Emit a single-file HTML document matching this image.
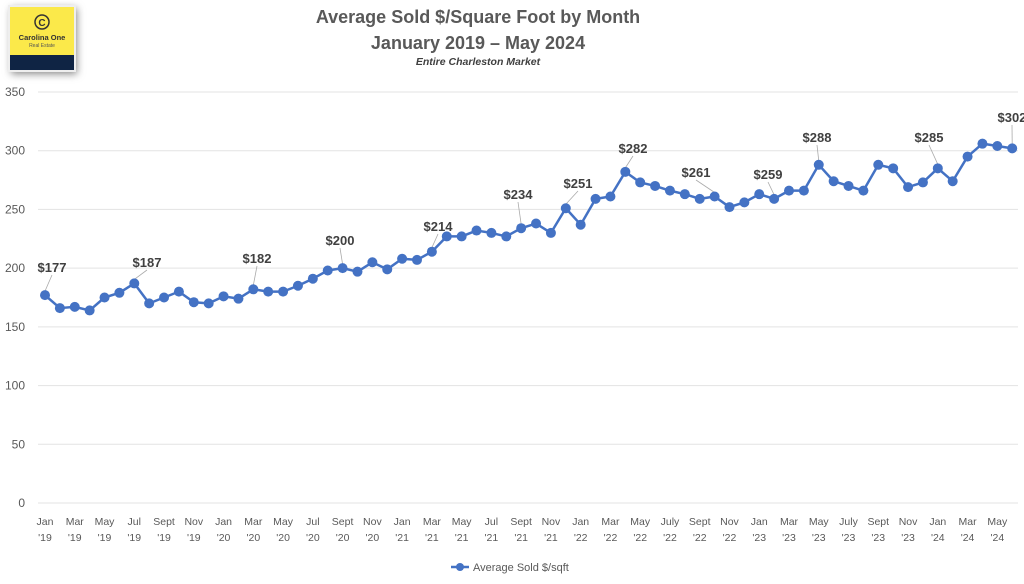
<!DOCTYPE html><html><head><meta charset="utf-8"><style>body{margin:0;background:#fff;width:1024px;height:579px;overflow:hidden;font-family:"Liberation Sans",sans-serif}</style></head><body>
<svg width="1024" height="579" xmlns="http://www.w3.org/2000/svg" font-family="Liberation Sans, sans-serif">
<defs><filter id="sh" x="-30%" y="-30%" width="160%" height="160%"><feGaussianBlur stdDeviation="4"/></filter></defs>
<rect x="11" y="8" width="66" height="66" fill="#888" filter="url(#sh)"/>
<rect x="8" y="5" width="68" height="67" fill="#eee"/>
<rect x="10" y="7" width="64" height="48" fill="#fbe94a"/>
<rect x="10" y="55" width="64" height="15" fill="#0f2444"/>
<circle cx="42" cy="22" r="7" fill="none" stroke="#333" stroke-width="1.5"/>
<text x="42" y="26" font-size="10" text-anchor="middle" fill="#333" font-weight="bold">C</text>
<text x="42" y="40" font-size="7.5" text-anchor="middle" fill="#333" font-weight="bold">Carolina One</text>
<text x="42" y="47" font-size="5" text-anchor="middle" fill="#555">Real Estate</text>
<text x="478" y="23" font-size="18" font-weight="bold" text-anchor="middle" fill="#595959">Average Sold $/Square Foot by Month</text>
<text x="478" y="49" font-size="18" font-weight="bold" text-anchor="middle" fill="#595959">January 2019 – May 2024</text>
<text x="478" y="65" font-size="10.5" font-weight="bold" font-style="italic" text-anchor="middle" fill="#404040">Entire Charleston Market</text>
<g id="grid" stroke="#e3e3e3" stroke-width="1"></g>
<g id="yl" font-size="12" fill="#595959" text-anchor="end"></g>
<g id="xl" font-size="10.5" fill="#595959" text-anchor="middle"></g>
<g id="lead" stroke="#aaa" stroke-width="0.8"></g>
<polyline id="ln" fill="none" stroke="#4472c4" stroke-width="2.5" stroke-linejoin="round"/>
<g id="pts" fill="#4472c4"></g>
<g id="lbl" font-size="13" font-weight="bold" fill="#404040" text-anchor="middle"></g>
<line x1="451" y1="567" x2="469" y2="567" stroke="#4472c4" stroke-width="2.5"/><circle cx="460" cy="567" r="4" fill="#4472c4"/>
<text x="473" y="571" font-size="11" fill="#595959">Average Sold $/sqft</text>
</svg>
<script>
const NS="http://www.w3.org/2000/svg";
function el(p,t,a,txt){const e=document.createElementNS(NS,t);for(const k in a)e.setAttribute(k,a[k]);if(txt!=null)e.textContent=txt;document.getElementById(p).appendChild(e);return e;}
const Y=v=>503-v*1.1743, X=i=>45+i*14.88;
for(let v=0;v<=350;v+=50){el('grid','line',{x1:38,x2:1018,y1:Y(v),y2:Y(v)});el('yl','text',{x:25,y:Y(v)+4},v);}
const m=["Jan","Mar","May","Jul","Sept","Nov"],m2=["Jan","Mar","May","July","Sept","Nov"];
for(let k=0;k<33;k++){const yr=19+Math.floor(k/6);const nm=(yr>=22?m2:m)[k%6];const x=X(2*k);el('xl','text',{x:x,y:525},nm);el('xl','text',{x:x,y:541},"'"+yr);}
const d=[177,166,167,164,175,179,187,170,175,180,171,170,176,174,182,180,180,185,191,198,200,197,205,199,208,207,214,227,227,232,230,227,234,238,230,251,237,259,261,282,273,270,266,263,259,261,252,256,263,259,266,266,288,274,270,266,288,285,269,273,285,274,295,306,304,302];
document.getElementById('ln').setAttribute('points',d.map((v,i)=>X(i)+','+Y(v)).join(' '));
d.forEach((v,i)=>el('pts','circle',{cx:X(i),cy:Y(v),r:5}));
const L=[[0,52,272],[6,147,267],[14,257,263],[20,340,245],[26,438,231],[32,518,199],[35,578,188],[39,633,153],[45,696,177],[49,768,179],[52,817,142],[60,929,142],[65,1012,122]];
L.forEach(([i,x,y])=>{el('lead','line',{x1:x,y1:y+3,x2:X(i),y2:Y(d[i])-4});el('lbl','text',{x:x,y:y},'$'+d[i]);});
</script>
</body></html>
